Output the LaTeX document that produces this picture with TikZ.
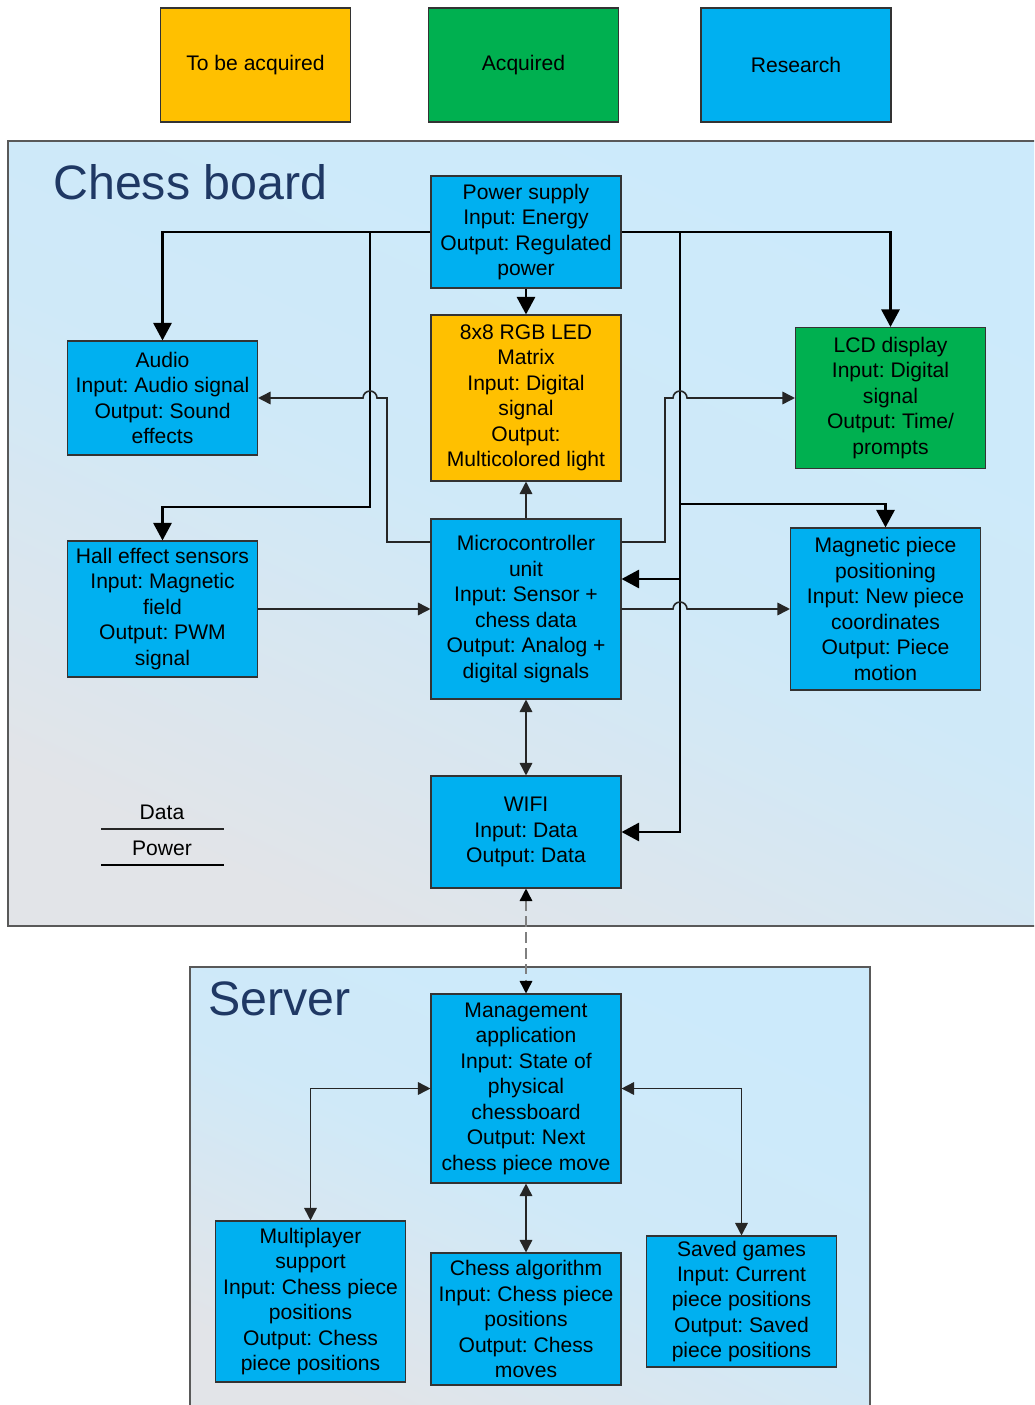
\documentclass[tikz,border=0pt]{standalone}
\usepackage{fontspec}
\setmainfont{Liberation Sans}
\usetikzlibrary{arrows.meta}
\frenchspacing

\definecolor{resblue}{RGB}{0,176,240}
\definecolor{tobeorange}{RGB}{255,192,0}
\definecolor{acqgreen}{RGB}{0,176,80}
\definecolor{panelblue}{RGB}{204,234,251}
\definecolor{panelgray}{RGB}{226,228,232}
\definecolor{titlenavy}{RGB}{31,56,100}

\begin{document}
\begin{tikzpicture}[x=0.2mm, y=-0.2mm]
	\tikzstyle{every node} = [font=\fontsize{12}{14.5}\selectfont]
	\tikzstyle{block} = [draw=black!80, line width=0.6pt, minimum width=38mm, align=center, inner sep=1pt]
	\tikzstyle{resbox} = [block, fill=resblue]
	\tikzstyle{tobebox} = [block, fill=tobeorange]
	\tikzstyle{acqbox} = [block, fill=acqgreen]
	\tikzstyle{pwrln} = [line width=1.6pt, draw=black, -{Triangle[length=3.5mm, width=3.6mm]}]
	\tikzstyle{dataln} = [line width=0.9pt, draw=black!85, -{Triangle[length=2.5mm, width=2.5mm]}]
	\tikzstyle{bothln} = [dataln, {Triangle[length=2.5mm, width=2.5mm]}-{Triangle[length=2.5mm, width=2.5mm]}]
	\tikzstyle{linkln} = [line width=0.9pt, draw=gray, dash pattern=on 6pt off 3pt, {Triangle[length=2.5mm, width=2.5mm, color=black]}-{Triangle[length=2.5mm, width=2.5mm, color=black]}]
	\tikzstyle{panel} = [draw=black!65, line width=1pt, top color=panelblue, bottom color=panelgray, middle color=panelblue!85!panelgray, shading angle=-25]
	\tikzstyle{paneltitle} = [anchor=base west, inner sep=0pt, text=titlenavy, font=\fontsize{27.5}{32}\selectfont]

	\clip (0,0) rectangle (1034,1405);
	\fill [white] (0,0) rectangle (1034,1405);
	\shade [panel] (8,141) rectangle (1050,926);
	\shade [panel] (190,967) rectangle (870,1420);

	\node [tobebox, minimum height=22.8mm] (legtobe) at (255.5,65) {To be acquired};
	\node [acqbox, minimum height=22.8mm] (legacq) at (523.5,65) {Acquired};
	\node [resbox, minimum height=22.8mm] (legres) at (796,65) {Research};

	\node [paneltitle] (cbtitle) at (53,200) {Chess board};
	\node [paneltitle] (srvtitle) at (208,1015) {Server};

	\node [resbox, minimum height=22.4mm] (pwr) at (526,232) {Power supply\\Input: Energy\\Output: Regulated\\power};
	\node [tobebox, minimum height=33.2mm] (led) at (526,398) {8x8 RGB LED\\Matrix\\Input: Digital\\signal\\Output:\\Multicolored light};
	\node [resbox, minimum height=22.8mm] (audio) at (162.5,398) {Audio\\Input: Audio signal\\Output: Sound\\effects};
	\node [acqbox, minimum height=28.2mm] (lcd) at (890.5,398) {LCD display\\Input: Digital\\signal\\Output: Time/\\prompts};
	\node [resbox, minimum height=27.2mm] (hall) at (162.5,609) {Hall effect sensors\\Input: Magnetic\\field\\Output: PWM\\signal};
	\node [resbox, minimum height=36mm] (mcu) at (526,609) {Microcontroller\\unit\\Input: Sensor +\\chess data\\Output: Analog +\\digital signals};
	\node [resbox, minimum height=32.4mm] (mag) at (885.5,609) {Magnetic piece\\positioning\\Input: New piece\\coordinates\\Output: Piece\\motion};
	\node [resbox, minimum height=22.4mm] (wifi) at (526,832) {WIFI\\Input: Data\\Output: Data};

	\node [resbox, minimum height=37.8mm] (mgmt) at (526,1088.5) {Management\\application\\Input: State of\\physical\\chessboard\\Output: Next\\chess piece move};
	\node [resbox, minimum height=32.2mm] (multi) at (310.5,1301.5) {Multiplayer\\support\\Input: Chess piece\\positions\\Output: Chess\\piece positions};
	\node [resbox, minimum height=26.4mm] (algo) at (526,1319) {Chess algorithm\\Input: Chess piece\\positions\\Output: Chess\\moves};
	\node [resbox, minimum height=26.2mm] (saved) at (741.5,1301.5) {Saved games\\Input: Current\\piece positions\\Output: Saved\\piece positions};

	\node (lgdata) at (162,812) {Data};
	\node (lgpower) at (162,848) {Power};
	\coordinate (dl1) at (101,829);
	\coordinate (dl2) at (224,829);
	\coordinate (pl1) at (101,865);
	\coordinate (pl2) at (224,865);
	\draw [dataln, -] (dl1)--(dl2);
	\draw [pwrln, -] (pl1)--(pl2);

	\coordinate (jl) at (370,232);
	\coordinate (jlb) at (370,507);
	\coordinate (jr) at (680,232);
	\coordinate (jm) at (680,504);
	\coordinate (jc) at (680,579);

	\draw [pwrln] (pwr)--(led);
	\draw [pwrln] (pwr.west) -| (audio.north);
	\draw [pwrln] (jl)--(jlb) -| (hall.north);
	\draw [pwrln] (pwr.east) -| (lcd.north);
	\draw [pwrln] (jr) |- (wifi.east);
	\draw [pwrln] (jm) -| (mag.north);
	\draw [pwrln] (jc)--(jc -| mcu.east);

	\draw [dataln] (mcu)--(led);
	\draw [dataln] (mcu.west |- 0,542) -- (387,542) -- (387,398) -- (377,398) arc (0:-180:7) -- (audio.east);
	\draw [dataln] (mcu.east |- 0,542) -- (665,542) -- (665,398) -- (673,398) arc (180:360:7) -- (lcd.west);
	\draw [dataln] (hall)--(mcu);
	\draw [dataln] (mcu.east) -- (673,609) arc (180:360:7) -- (mag.west);
	\draw [bothln] (mcu)--(wifi);
	\draw [linkln] (wifi)--(mgmt);

	\draw [bothln] (mgmt.west) -| (multi.north);
	\draw [bothln] (mgmt.east) -| (saved.north);
	\draw [bothln] (mgmt)--(algo);
\end{tikzpicture}
\end{document}
